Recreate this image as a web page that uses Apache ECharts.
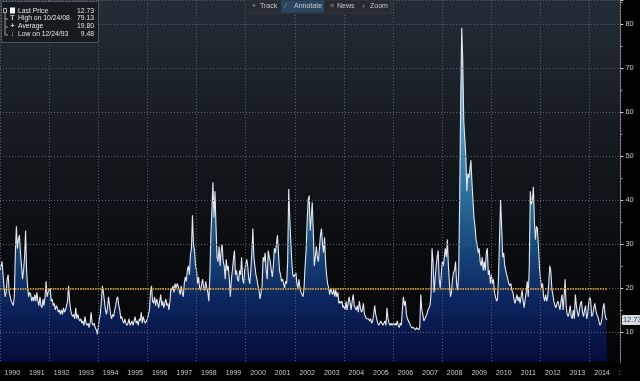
<!DOCTYPE html>
<html><head><meta charset="utf-8">
<script src="https://cdn.jsdelivr.net/npm/echarts@6/dist/echarts.min.js"></script>
<style>html,body{margin:0;padding:0;background:#000;}#c{width:640px;height:381px;}</style>
</head><body><div id="c"></div>
<script>
// ---- data (semi-monthly readings, VIX) ----
const startYear = 1990;
const pointsPerYear = 24;
const v1990 = [24,25,26,23,20,18,19,22,23,19,18,17,17,16,18,28,34,29,31,32,28,25,22,24];
const v1991 = [27,33,24,20,18,19,18.5,17,18,17,18.5,17,19,17,16,18,16,15.5,17.5,16,18,21.5,18,19];
const v1992 = [19,20,17,17.5,16,16.5,15,16,15.5,14.5,15,14,15,14,15.5,14.5,15,16,17,20.5,17,15,14,13.5];
const v1993 = [14,13,15.5,13,14,13,12.5,13,12,12.5,11.5,13.5,12,11.5,12,11,12,14.5,12,11.5,12,11,10.5,9.48];
const v1994 = [11,13,14,17,20.5,19,17,15,14,15.5,18,16,14,13,14,13.5,15,16,17.5,18,16,15,13,13.5];
const v1995 = [12.5,12,13,12,11.5,12,13,11.5,12,12.5,11.5,12.5,13.5,12,12.5,11.5,13,12.5,14.5,12,13.5,12.5,12,12.5];
const v1996 = [13,14,15,19,20.5,17,16.5,18,16,17.5,16.5,15.5,17,18.5,16,17,15.5,16.5,17.5,16,16.5,15,17,20];
const v1997 = [19.5,20.5,19,21,20,21,20.5,19.5,18.5,20.5,19,18,21,22.5,21.5,24,25,23,27.5,29,36.5,30,28.5,25];
const v1998 = [24,21,22.5,20,19.5,21,22,20,19.5,21.5,20,19,17,23,32,38,44,36,42,34,27,26,29.5,25];
const v1999 = [28.5,30,26,25,22,26.5,24,25,22,18,22,24,26.5,28.5,23,24,22,21.5,24,23,27,22,21,24];
const v2000 = [24,26.5,25,22,21,24,28,33.5,27,25,23,22,20.5,19.5,17.5,19,20.5,27,26,28,24,22,28.5,27];
const v2001 = [26,24,22.5,25,29,28,30,32,28,24,23,21.5,22,21,20,21.5,21,26,42.5,36,31,26,23,22.5];
const v2002 = [22.5,23.5,21,20,22,20,19,18.5,18,20,25,28.5,35,40,41,33,36,39.5,33,25,27,29.5,27,26];
const v2003 = [26,32,33.5,30,28,31.5,26,23,21,20,18.5,20,19,18.5,20,18,19.5,18,19,16.5,17,16.5,17,15.5];
const v2004 = [16,15,17,15,16.5,18,16.5,15,17,18.5,16,15.5,15,16,14.5,17,15.5,14.5,15,16.5,14,13.5,13,13];
const v2005 = [13,12.5,13,12,12.5,14,16,14,13,12,11.5,12,12.5,12,11.5,12,12.5,11.5,15.5,13,12,11.5,12,11.5];
const v2006 = [12,11.5,12,11.5,12.5,11.5,11,12,11.5,15,18,16,17,14,13,12.5,12,11.5,11,10.8,11,11,10.5,11];
const v2007 = [11,10.5,11,18.5,15,14,12.5,13,13.5,14,15,15.5,16,18.5,29,26,19,22,25,27,28.5,22,20,23];
const v2008 = [26,25,27,29,27,31,25,21,18,19,22,23.5,24,26,21,19.5,23,40,62,79.13,72,58,58,50];
const v2009 = [42,46,45,47,49,44,40,36,34,31,30,28,29,26,25,27,24,26,24,28,29,23,24,21];
const v2010 = [23,21,22,19,18,17,17.5,23,32,40,34,27,28,25,24,23,22,21,20.5,21,19.5,19,17.5,16.5];
const v2011 = [16.5,18.5,17,18,16.5,18,19.5,17,15.5,17.5,19,21.5,18,25,42,39,40,43,35,31,34,33.5,29,24.5];
const v2012 = [22,20,21,18,17,18.5,17,18,21,25,24,20,18.5,17,16,15.5,16.5,17,16,15,17,18.5,15,18];
const v2013 = [22,16,14,13.5,14.5,16,13.5,13,15,13,18.5,16,14.5,13.5,15,16.5,17,14.5,13.5,15,16,13,14,16.5];
const v2014 = [18,17,13.5,14,15.5,16.5,15,14,13.5,12.5,11.5,12,13,15.5,16.5,14,13,12.73];

const yearLabels = ['1990','1991','1992','1993','1994','1995','1996','1997','1998','1999','2000','2001','2002',
  '2003','2004','2005','2006','2007','2008','2009','2010','2011','2012','2013','2014',':'];
const legendNames = ['Last Price','High on 10/24/08','Average','Low on 12/24/93'];
const legendValues = ['12.73','79.13','19.80','9.48'];
const legendIcons = ['', 'T', '+', '\u2193'];
const lastPrice = 12.73;
const averageValue = 19.80;
const toolbarItems = ['Track','Annotate','News','Zoom'];
const toolbarIcons = ['+','\u2215','\u2261','\u2315'];

// ---- build series data ----
const yearly = [v1990,v1991,v1992,v1993,v1994,v1995,v1996,v1997,v1998,v1999,v2000,v2001,v2002,v2003,v2004,v2005,v2006,v2007,v2008,v2009,v2010,v2011,v2012,v2013,v2014];
const seriesData = [];
yearly.forEach((arr, yi) => arr.forEach((v, i) => seriesData.push([startYear + yi + i / pointsPerYear, v])));
const firstX = seriesData[0][0];
const lastX = seriesData[seriesData.length - 1][0];

// ---- layout ----
const XMIN = 1990, XMAX = 2015.25;
const GL = -2, GW = 622.4, GH = 362;
const FONT = '"Liberation Sans", Arial, sans-serif';

const chart = echarts.init(document.getElementById('c'), null, {renderer: 'canvas'});

const graphics = [];
// toolbar
graphics.push({type:'rect', shape:{x:245,y:0,width:146,height:13}, style:{fill:'#262b31', stroke:'#353b42'}, z:10});
graphics.push({type:'rect', shape:{x:281,y:0.5,width:43,height:12}, style:{fill:'#2b4660'}, z:10});
const tbIconX = [252, 285, 330, 362];
const tbTextX = [260, 294, 337, 370];
toolbarItems.forEach((t, i) => {
  graphics.push({type:'text', x: tbIconX[i], y: 6.5, style:{text: toolbarIcons[i], fill:'#9aa3ad', font: '7px ' + FONT, verticalAlign:'middle'}, z:11});
  graphics.push({type:'text', x: tbTextX[i], y: 6.5, style:{text: t, fill:'#c3c8ce', font: '7px ' + FONT, verticalAlign:'middle'}, z:11});
});
// legend box
graphics.push({type:'rect', shape:{x:1.5,y:1.5,width:97,height:41}, style:{fill:'rgba(22,26,30,0.95)', stroke:'#4d5359', lineWidth:1}, z:10});
graphics.push({type:'rect', shape:{x:3.5,y:8.5,width:3,height:4}, style:{fill:'none', stroke:'#b0b0b0'}, z:11});
graphics.push({type:'line', shape:{x1:5,y1:12.5,x2:5,y2:35}, style:{stroke:'#9a9a9a', lineWidth:1}, z:11});
[19, 27, 35].forEach(yy => graphics.push({type:'line', shape:{x1:5,y1:yy,x2:8,y2:yy}, style:{stroke:'#9a9a9a'}, z:11}));
graphics.push({type:'rect', shape:{x:10,y:7.5,width:5,height:6}, style:{fill:'#f4f4f4'}, z:11});
const rowY = [10.7, 18.5, 26.5, 34.5];
legendNames.forEach((n, i) => {
  if (legendIcons[i]) graphics.push({type:'text', x: 12.5, y: rowY[i], style:{text: legendIcons[i], fill:'#d0d0d0', font:'bold 7px ' + FONT, align:'center', verticalAlign:'middle'}, z:11});
  graphics.push({type:'text', x: 18, y: rowY[i], style:{text: n, fill:'#e2e2e2', font:'6.8px ' + FONT, verticalAlign:'middle'}, z:11});
  graphics.push({type:'text', x: 94, y: rowY[i], style:{text: legendValues[i], fill:'#e2e2e2', font:'6.8px ' + FONT, align:'right', verticalAlign:'middle'}, z:11});
});

const option = {
  backgroundColor: '#000',
  animation: false,
  grid: [
    {left: GL, top: 0, width: GW, height: GH, show: true, borderWidth: 0,
     backgroundColor: new echarts.graphic.LinearGradient(0, 0, 0, 1, [
       {offset: 0, color: '#242d36'}, {offset: 0.45, color: '#12171c'},
       {offset: 0.8, color: '#07090b'}, {offset: 1, color: '#030405'}])},
    {left: GL, top: GH, width: 26 * 24.65, height: 19},
    {left: GL, top: 0, width: GW, height: 332}
  ],
  xAxis: [
    {type: 'value', gridIndex: 0, min: XMIN, max: XMAX, interval: 2, z: 3,
     axisLine: {show: false}, axisTick: {show: false}, axisLabel: {show: false},
     splitLine: {show: true, lineStyle: {color: '#56606b', type: [1, 2], width: 1}}},
    {type: 'category', gridIndex: 1, position: 'top', data: yearLabels, boundaryGap: true,
     axisLine: {show: true, lineStyle: {color: '#7a7f85', width: 1}},
     axisTick: {show: true, inside: true, length: 19, interval: 0, lineStyle: {color: '#5a5f65'}},
     axisLabel: {show: true, inside: true, interval: 0, margin: 11, color: '#c8c8c8', fontSize: 7, fontFamily: FONT,
       verticalAlign: 'middle',
       formatter: (v) => v === ':' ? '{c|:}' : v,
       rich: {c: {color: '#c8c8c8', fontSize: 7, padding: [0, 14, 0, 0]}}},
     splitLine: {show: false}},
    {type: 'value', gridIndex: 2, show: false, min: XMIN, max: XMAX}
  ],
  yAxis: [
    {type: 'value', gridIndex: 0, position: 'right', min: 3.18, max: 85.45,
     axisLine: {show: true, lineStyle: {color: '#8a8f95', width: 1}},
     axisTick: {show: false}, axisLabel: {show: false}, splitLine: {show: false}},
    {type: 'value', gridIndex: 1, show: false},
    {type: 'value', gridIndex: 2, position: 'right', min: 10, max: 85.45, interval: 10, z: 3,
     axisLine: {show: false},
     axisTick: {show: true, length: 3, lineStyle: {color: '#d0d0d0'}},
     minorTick: {show: true, splitNumber: 2, length: 2, lineStyle: {color: '#a0a0a0'}},
     axisLabel: {show: true, color: '#c8c8c8', fontSize: 7.5, fontFamily: FONT, margin: 5, showMaxLabel: false,
       formatter: (v) => (Math.abs(v % 10) < 1e-6 ? String(v) : '')},
     splitLine: {show: true, lineStyle: {color: '#56606b', type: [1, 2], width: 1}}}
  ],
  series: [{
    type: 'line', xAxisIndex: 0, yAxisIndex: 0, data: seriesData,
    showSymbol: false, symbol: 'none', z: 2,
    lineStyle: {color: '#e4e7ee', width: 1.1},
    areaStyle: {origin: 'start', opacity: 1,
      color: new echarts.graphic.LinearGradient(0, 0, 0, GH, [
        {offset: 0, color: '#a9def0'}, {offset: 0.35, color: '#4b9cc4'},
        {offset: 0.55, color: '#286c9a'}, {offset: 0.7, color: '#164478'},
        {offset: 0.82, color: '#0c2760'}, {offset: 1, color: '#050b38'}], true)},
    markLine: {silent: true, symbol: 'none', label: {show: false},
      lineStyle: {color: '#f0a830', width: 1.6, type: [1.5, 1]},
      data: [[{coord: [firstX, averageValue]}, {coord: [lastX, averageValue]}]]},
    markPoint: {silent: true, symbol: 'rect', symbolSize: 1, itemStyle: {color: 'rgba(0,0,0,0)'},
      data: [{coord: [XMAX - 0.001, lastPrice], value: lastPrice}],
      label: {show: true, position: 'right', distance: 1, formatter: lastPrice.toFixed(2),
        backgroundColor: '#d7dce1', color: '#3a4048', fontSize: 7.5, fontFamily: FONT,
        padding: [1, 1, 1, 1], borderRadius: 1}}
  }],
  graphic: graphics
};
chart.setOption(option);
</script>
</body></html>
